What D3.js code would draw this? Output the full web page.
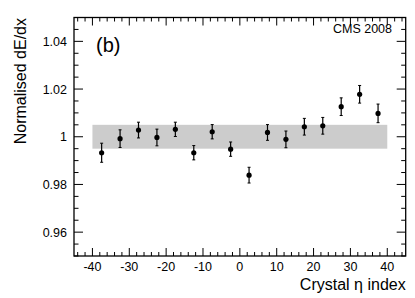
<!DOCTYPE html>
<html><head><meta charset="utf-8">
<script src="https://cdn.jsdelivr.net/npm/d3@7"></script>
<style>body{margin:0;background:#fff}svg{display:block;font-family:"Liberation Sans",Arial,sans-serif}</style>
</head><body>
<svg id="c" width="415" height="298"></svg>
<script>
const etaIndex = [-37.5,-32.5,-27.5,-22.5,-17.5,-12.5,-7.5,-2.5,2.5,7.5,12.5,17.5,22.5,27.5,32.5,37.5];
const dedx     = [0.9933,0.9992,1.0028,0.9997,1.0031,0.9933,1.0021,0.9948,0.9839,1.0018,0.9989,1.0042,1.0046,1.0126,1.0178,1.0098];
const dedxErr  = [0.0040,0.0037,0.0033,0.0035,0.0030,0.0030,0.0030,0.0030,0.0033,0.0033,0.0035,0.0035,0.0035,0.0037,0.0037,0.0039];
const bandX = [-40, 40];
const bandY = [0.995, 1.005];
const xTicks = [-40,-30,-20,-10,0,10,20,30,40];
const yTicks = [0.96,0.98,1,1.02,1.04];
const yTickLabels = ["0.96","0.98","1","1.02","1.04"];

const svg = d3.select("#c");
const L=74, R=405.7, T=17.5, B=256;
const x = d3.scaleLinear().domain([-45,45]).range([L,R]);
const y = d3.scaleLinear().domain([0.95,1.05]).range([B,T]);

// band
svg.append("rect").attr("x",x(bandX[0])).attr("width",x(bandX[1])-x(bandX[0]))
  .attr("y",y(bandY[1])).attr("height",y(bandY[0])-y(bandY[1])).attr("fill","#cccccc");

// ticks
const xMinor = d3.range(-44,45,2);
const yMinor = d3.range(0.95,1.0501,0.005);
const g = svg.append("g").attr("stroke","#000").attr("stroke-width",1);
xMinor.forEach(v=>{
  const major = xTicks.some(t=>Math.abs(t-v)<1e-6);
  const len = major?8:4;
  g.append("line").attr("x1",x(v)).attr("x2",x(v)).attr("y1",B).attr("y2",B-len);
  g.append("line").attr("x1",x(v)).attr("x2",x(v)).attr("y1",T).attr("y2",T+len);
});
yMinor.forEach(v=>{
  const major = yTicks.some(t=>Math.abs(t-v)<1e-6);
  const len = major?9:4.5;
  g.append("line").attr("x1",L).attr("x2",L+len).attr("y1",y(v)).attr("y2",y(v));
  g.append("line").attr("x1",R).attr("x2",R-len).attr("y1",y(v)).attr("y2",y(v));
});
svg.append("rect").attr("x",L).attr("y",T).attr("width",R-L).attr("height",B-T)
  .attr("fill","none").attr("stroke","#000").attr("stroke-width",1.3);

// tick labels
svg.selectAll(".xl").data(xTicks).enter().append("text")
  .attr("x",d=>x(d)).attr("y",270.5).attr("text-anchor","middle").attr("font-size","12.5px").text(d=>d);
svg.selectAll(".yl").data(yTicks).enter().append("text")
  .attr("x",67).attr("y",d=>y(d)+4.5).attr("text-anchor","end").attr("font-size","12.5px")
  .text((d,i)=>yTickLabels[i]);

// error bars and points
const pts = svg.append("g");
etaIndex.forEach((e,i)=>{
  const cx=x(e), y1=y(dedx[i]+dedxErr[i]), y2=y(dedx[i]-dedxErr[i]);
  pts.append("line").attr("x1",cx).attr("x2",cx).attr("y1",y1).attr("y2",y2).attr("stroke","#000").attr("stroke-width",1.2);
  pts.append("line").attr("x1",cx-1.5).attr("x2",cx+1.5).attr("y1",y1).attr("y2",y1).attr("stroke","#000").attr("stroke-width",1);
  pts.append("line").attr("x1",cx-1.5).attr("x2",cx+1.5).attr("y1",y2).attr("y2",y2).attr("stroke","#000").attr("stroke-width",1);
  pts.append("circle").attr("cx",cx).attr("cy",y(dedx[i])).attr("r",2.6).attr("fill","#000");
});

// titles
svg.append("text").attr("transform","translate(26,18) rotate(-90)").attr("text-anchor","end")
  .attr("font-size","16px").text("Normalised dE/dx");
svg.append("text").attr("x",R).attr("y",289.5).attr("text-anchor","end")
  .attr("font-size","16px").text("Crystal η index");
svg.append("text").attr("x",96).attr("y",52).attr("font-size","20px").text("(b)");
svg.append("text").attr("x",392).attr("y",33.3).attr("text-anchor","end").attr("font-size","12.5px").text("CMS 2008");
</script>
</body></html>
